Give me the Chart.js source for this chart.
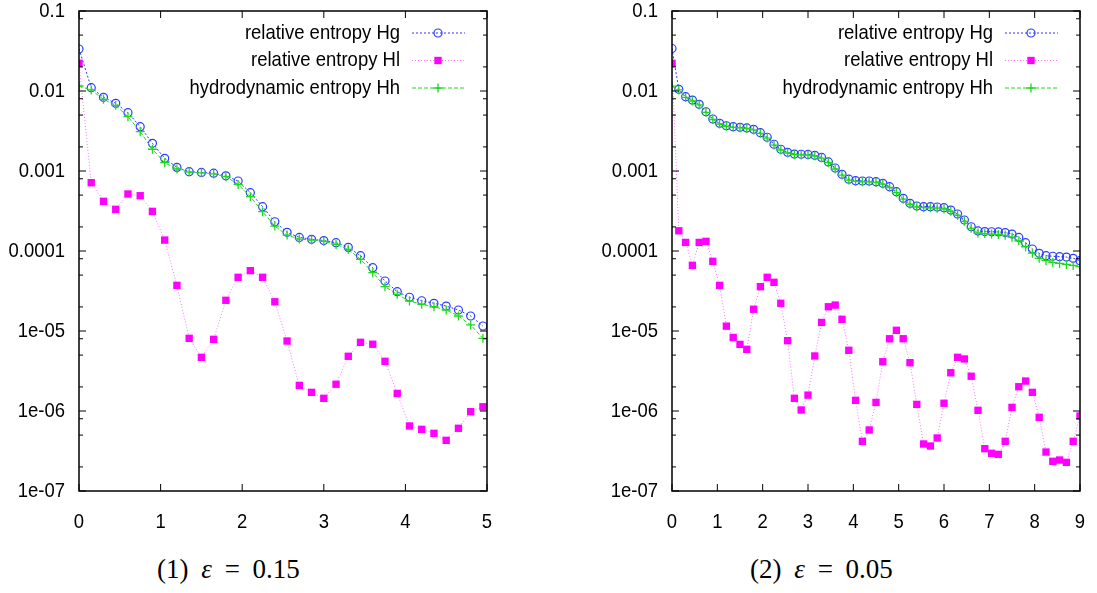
<!DOCTYPE html>
<html>
<head>
<meta charset="utf-8">
<script src="https://cdn.jsdelivr.net/npm/chart.js@4/dist/chart.umd.min.js"></script>
<style>
  body { margin: 0; background: #fff; width: 1097px; height: 593px; position: relative; overflow: hidden; }
  canvas { position: absolute; top: 0; }
  #c1 { left: 0; }
  #c2 { left: 593px; }
  .cap { position: absolute; top: 556px; font-family: 'Liberation Serif', 'DejaVu Serif', serif; font-size: 27px; line-height: 1; word-spacing: 6px; white-space: nowrap; color: #000; }
</style>
</head>
<body>
<canvas id="c1" width="545" height="540"></canvas>
<canvas id="c2" width="545" height="540"></canvas>
<div class="cap" style="left:157px">(1) <i>ε</i> = 0.15</div>
<div class="cap" style="left:750px">(2) <i>ε</i> = 0.05</div>
<script>
const seriesNames = ['relative entropy Hg', 'relative entropy Hl', 'hydrodynamic entropy Hh']
const yMajor = [1e-7, 1e-6, 1e-5, 1e-4, 1e-3, 1e-2, 1e-1]
const yTickLabels = ['1e-07', '1e-06', '1e-05', '0.0001', '0.001', '0.01', '0.1']
const yMinorFactors = [2, 5, 8]

// panel 1, epsilon = 0.15
const t1 = [0, 0.15, 0.3, 0.45, 0.6, 0.75, 0.9, 1.05, 1.2, 1.35, 1.5, 1.65, 1.8, 1.95, 2.1, 2.25, 2.4,
  2.55, 2.7, 2.85, 3, 3.15, 3.3, 3.45, 3.6, 3.75, 3.9, 4.05, 4.2, 4.35, 4.5, 4.65, 4.8, 4.95]
const hg1 = [0.0335, 0.011, 0.00834, 0.00702, 0.00536, 0.00358, 0.00222, 0.00144, 0.00111, 0.00098,
  0.00096, 0.00094, 0.00087, 0.00075, 0.000536, 0.000358, 0.000232, 0.000171, 0.000148, 0.00014,
  0.000135, 0.000127, 0.000111, 8.74e-5, 6.18e-5, 4.22e-5, 3.1e-5, 2.64e-5, 2.39e-5, 2.22e-5,
  2.05e-5, 1.83e-5, 1.54e-5, 1.155e-5]
const hl1 = [0.0222, 0.000714, 0.000418, 0.000332, 0.000516, 0.000491, 0.000313, 0.000137, 3.72e-5,
  8.1e-6, 4.69e-6, 7.87e-6, 2.42e-5, 4.69e-5, 5.68e-5, 4.69e-5, 2.32e-5, 7.5e-6, 2.09e-6, 1.71e-6,
  1.44e-6, 2.16e-6, 4.83e-6, 7.22e-6, 6.83e-6, 4.18e-6, 1.66e-6, 6.5e-7, 5.9e-7, 5.26e-7, 4.3e-7,
  6.08e-7, 9.8e-7, 1.13e-6]
const hh1 = [0.01155, 0.0103, 0.00787, 0.00662, 0.00477, 0.0031, 0.00187, 0.00127, 0.00106, 0.00097,
  0.00095, 0.00092, 0.00085, 0.00068, 0.000478, 0.00031, 0.000205, 0.000158, 0.000141, 0.000137,
  0.000132, 0.000121, 0.000105, 7.87e-5, 5.36e-5, 3.58e-5, 2.87e-5, 2.37e-5, 2.16e-5, 2.01e-5,
  1.83e-5, 1.54e-5, 1.19e-5, 8.1e-6]

// panel 2, epsilon = 0.05
const t2 = [0, 0.15, 0.3, 0.45, 0.6, 0.75, 0.9, 1.05, 1.2, 1.35, 1.5, 1.65, 1.8, 1.95, 2.1, 2.25, 2.4,
  2.55, 2.7, 2.85, 3, 3.15, 3.3, 3.45, 3.6, 3.75, 3.9, 4.05, 4.2, 4.35, 4.5, 4.65, 4.8, 4.95, 5.1,
  5.25, 5.4, 5.55, 5.7, 5.85, 6, 6.15, 6.3, 6.45, 6.6, 6.75, 6.9, 7.05, 7.2, 7.35, 7.5, 7.65, 7.8,
  7.95, 8.1, 8.25, 8.4, 8.55, 8.7, 8.85, 9]
const hg2 = [0.034, 0.0105, 0.0085, 0.0077, 0.00682, 0.0055, 0.00447, 0.00394, 0.00368, 0.00358,
  0.00352, 0.00345, 0.00332, 0.00301, 0.00264, 0.00216, 0.00187, 0.00171, 0.00163, 0.00162,
  0.00161, 0.00157, 0.00148, 0.0013, 0.00109, 0.00091, 0.00079, 0.000757, 0.00075, 0.00075,
  0.000736, 0.000702, 0.000637, 0.000551, 0.000456, 0.000394, 0.000365, 0.000358, 0.000358,
  0.000355, 0.000348, 0.000325, 0.00029, 0.000244, 0.000201, 0.000178, 0.000175, 0.000174,
  0.000173, 0.00017, 0.000163, 0.000148, 0.000127, 0.000106, 9.35e-5, 8.73e-5, 8.6e-5, 8.5e-5,
  8.4e-5, 8.1e-5, 7.57e-5]
const hl2 = [0.0222, 0.000179, 0.000128, 6.62e-5, 0.000128, 0.000132, 7.43e-5, 3.72e-5, 1.15e-5,
  8.3e-6, 6.8e-6, 5.9e-6, 1.87e-5, 3.58e-5, 4.69e-5, 4.06e-5, 2.22e-5, 7.57e-6, 1.44e-6, 1.03e-6,
  1.58e-6, 4.87e-6, 1.28e-5, 2.01e-5, 2.11e-5, 1.4e-5, 5.74e-6, 1.36e-6, 4.18e-7, 5.79e-7, 1.28e-6,
  4.13e-6, 8.0e-6, 1.02e-5, 8.0e-6, 4.02e-6, 1.21e-6, 3.87e-7, 3.65e-7, 4.6e-7, 1.25e-6, 3.01e-6,
  4.69e-6, 4.47e-6, 2.72e-6, 1.02e-6, 3.38e-7, 2.96e-7, 2.87e-7, 4.18e-7, 1.11e-6, 2.01e-6,
  2.37e-6, 1.71e-6, 8.34e-7, 3.07e-7, 2.35e-7, 2.44e-7, 2.28e-7, 4.18e-7, 8.66e-7]
const hh2 = [0.0115, 0.0103, 0.0083, 0.0075, 0.0067, 0.0054, 0.0044, 0.00387, 0.00362, 0.00352,
  0.00346, 0.00339, 0.00326, 0.00295, 0.00258, 0.00211, 0.00183, 0.00168, 0.0016, 0.00159,
  0.00158, 0.00154, 0.00145, 0.00127, 0.00106, 0.00089, 0.00077, 0.00074, 0.000733, 0.000733,
  0.000719, 0.000686, 0.000622, 0.000537, 0.000444, 0.000384, 0.000355, 0.000348, 0.000347,
  0.000343, 0.000335, 0.000314, 0.00028, 0.000235, 0.000192, 0.000168, 0.000165, 0.000163,
  0.000161, 0.000157, 0.000149, 0.000134, 0.000113, 9.4e-5, 8.1e-5, 7.57e-5, 7.2e-5, 7.0e-5,
  6.8e-5, 6.6e-5, 6.37e-5]

// gnuplot style narrow helvetica: regular face squeezed a little
const labelFont = "21px 'Liberation Sans', Arial, sans-serif"
const squeeze = 0.88

const styles = [
  { borderColor: '#2a3cff', borderDash: [2, 2], pointStyle: 'circle', pointRadius: 4,
    pointBackgroundColor: 'rgba(0,0,0,0)', pointBorderColor: '#2a3cff', pointBorderWidth: 1.2, order: 2 },
  { borderColor: '#ff70ff', borderDash: [1, 2], pointStyle: 'rect', pointRadius: 5.2,
    pointBackgroundColor: '#ff00ff', pointBorderColor: '#ff00ff', pointBorderWidth: 0, order: 1 },
  { borderColor: '#20d820', borderDash: [4, 2], pointStyle: 'cross', pointRadius: 4.5,
    pointBackgroundColor: '#20d820', pointBorderColor: '#20d820', pointBorderWidth: 1.3, order: 0 },
]

function squeezedText (ctx, text, x, y, align) {
  ctx.save()
  ctx.translate(x, y)
  ctx.scale(squeeze, 1)
  ctx.font = labelFont
  ctx.fillStyle = '#000'
  ctx.textAlign = align
  ctx.textBaseline = 'middle'
  ctx.fillText(text, 0, 0)
  ctx.restore()
}

const frameTicks = {
  id: 'frameTicks',
  afterDraw (chart) {
    const ctx = chart.ctx
    const ca = chart.chartArea
    const xs = chart.scales.x
    const ys = chart.scales.y
    ctx.save()
    ctx.strokeStyle = '#000'
    ctx.lineWidth = 1
    ctx.beginPath()
    xs.ticks.forEach(tk => {
      const px = xs.getPixelForValue(tk.value)
      ctx.moveTo(px, ca.bottom); ctx.lineTo(px, ca.bottom - 7)
      ctx.moveTo(px, ca.top); ctx.lineTo(px, ca.top + 7)
    })
    ys.ticks.forEach(tk => {
      const py = ys.getPixelForValue(tk.value)
      const len = yMajor.includes(tk.value) ? 7 : 4
      ctx.moveTo(ca.left, py); ctx.lineTo(ca.left + len, py)
      ctx.moveTo(ca.right, py); ctx.lineTo(ca.right - len, py)
    })
    ctx.stroke()
    ctx.lineWidth = 1.5
    ctx.strokeRect(ca.left, ca.top, ca.right - ca.left, ca.bottom - ca.top)
    ctx.restore()

    // tick labels
    xs.ticks.forEach(tk => {
      squeezedText(ctx, String(tk.value), xs.getPixelForValue(tk.value), ca.bottom + 31, 'center')
    })
    ys.ticks.forEach(tk => {
      const k = yMajor.indexOf(tk.value)
      if (k >= 0) squeezedText(ctx, yTickLabels[k], ca.left - 14, ys.getPixelForValue(tk.value), 'right')
    })
  },
}

const sideLegend = {
  id: 'sideLegend',
  afterDatasetsDraw (chart) {
    const ctx = chart.ctx
    const ca = chart.chartArea
    chart.data.datasets.forEach((ds, i) => {
      const y = ca.top + 22 + i * 27.5
      squeezedText(ctx, ds.label, ca.right - 87, y, 'right')
      ctx.save()
      ctx.strokeStyle = ds.borderColor
      ctx.lineWidth = 1
      ctx.setLineDash(ds.borderDash)
      ctx.beginPath()
      ctx.moveTo(ca.right - 75, y)
      ctx.lineTo(ca.right - 22, y)
      ctx.stroke()
      ctx.setLineDash([])
      ctx.fillStyle = ds.pointBackgroundColor
      ctx.strokeStyle = ds.pointBorderColor
      ctx.lineWidth = ds.pointBorderWidth
      Chart.helpers.drawPoint(ctx, {
        pointStyle: ds.pointStyle, radius: ds.pointRadius, rotation: 0, borderWidth: ds.pointBorderWidth,
      }, ca.right - 49, y)
      ctx.restore()
    })
  },
}

function makeChart (id, xMax, t, series) {
  const canvas = document.getElementById(id)
  new Chart(canvas.getContext('2d'), {
    type: 'line',
    data: {
      datasets: series.map((vals, i) => Object.assign({
        label: seriesNames[i],
        data: vals.map((v, j) => ({ x: t[j], y: v })),
        borderWidth: 1,
        fill: false,
        tension: 0,
      }, styles[i])),
    },
    options: {
      responsive: false,
      animation: false,
      devicePixelRatio: 1,
      layout: { padding: { top: 11, right: canvas.width - 487, left: 0, bottom: 0 } },
      plugins: { legend: { display: false }, tooltip: { enabled: false } },
      scales: {
        x: {
          type: 'linear',
          min: 0,
          max: xMax,
          grid: { display: false, drawTicks: false },
          border: { display: false },
          ticks: { stepSize: 1, display: false },
          afterFit (scale) { scale.height = canvas.height - 491 },
        },
        y: {
          type: 'logarithmic',
          min: 1e-7,
          max: 0.1,
          grid: { display: false, drawTicks: false },
          border: { display: false },
          ticks: { display: false, autoSkip: false },
          afterBuildTicks (scale) {
            const ticks = []
            yMajor.forEach(v => {
              ticks.push({ value: v })
              yMinorFactors.forEach(f => { if (v * f < 0.1) ticks.push({ value: v * f }) })
            })
            scale.ticks = ticks
          },
          afterFit (scale) { scale.width = 79 },
        },
      },
    },
    plugins: [frameTicks, sideLegend],
  })
}

makeChart('c1', 5, t1, [hg1, hl1, hh1])
makeChart('c2', 9, t2, [hg2, hl2, hh2])
</script>
</body>
</html>
